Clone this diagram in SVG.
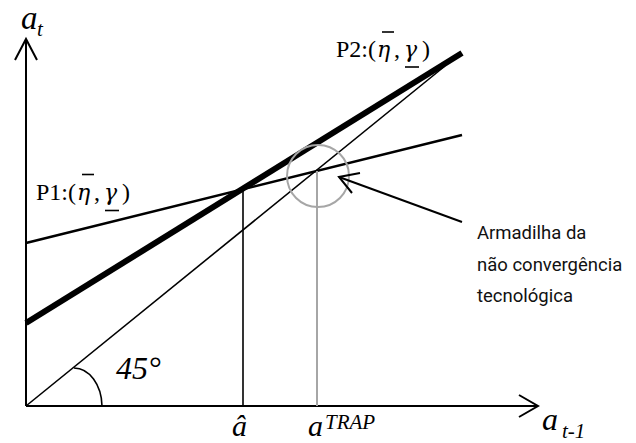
<svg xmlns="http://www.w3.org/2000/svg" width="636" height="443" viewBox="0 0 636 443">
<style>
.ax{stroke:#000;stroke-width:2;fill:none}
.ln{stroke:#000;fill:none}
.gr{stroke:#a6a6a6;fill:none;stroke-width:2}
.m{font-family:"Liberation Serif",serif;font-style:italic;fill:#000}
.p{font-family:"Liberation Serif",serif;font-size:24px;fill:#000}
.g{font-family:"DejaVu Serif","Liberation Serif",serif;font-style:italic;font-size:22px}
.ann{font-family:Roboto,"Liberation Sans",sans-serif;font-size:18.5px;fill:#111}
</style>
<rect width="636" height="443" fill="#fff"/>
<g id="axes">
<line class="ax" x1="26" y1="406" x2="26" y2="39"/>
<polyline class="ax" points="15,60 26,39 37,60"/>
<line class="ax" x1="26" y1="406" x2="537" y2="406"/>
<polyline class="ax" points="519,395 538,406 519,417"/>
</g>
<g id="connectors">
<line class="ln" x1="26" y1="406" x2="445" y2="66" stroke-width="1.6"/>
<line class="ln" x1="26" y1="243" x2="462" y2="135" stroke-width="2.6"/>
<line class="ln" x1="26" y1="323" x2="462" y2="53" stroke-width="6"/>
<line class="ln" x1="243" y1="189" x2="243" y2="406" stroke-width="1.6"/>
<line class="gr" x1="317" y1="171" x2="317" y2="406"/>
<circle class="gr" cx="318" cy="176" r="31"/>
<path class="ln" stroke-width="1.6" d="M74 368 A28 39 0 0 1 102 406"/>
<line class="ln" x1="339" y1="177" x2="462" y2="222" stroke-width="2"/>
<polyline class="ln" stroke-width="2" points="360,173 339,177 352,193"/>
</g>
<g id="label-at">
<text class="m" x="21" y="29" font-size="33">a</text>
<text class="m" x="37" y="36" font-size="21">t</text>
</g>
<g id="P2">
<text class="p" y="57"><tspan x="336">P2:(</tspan><tspan class="g" x="377">η</tspan><tspan x="394">,</tspan><tspan class="g" x="404">γ</tspan><tspan x="422">)</tspan></text>
<line class="ln" x1="382" y1="32" x2="394" y2="32" stroke-width="1.6"/>
<line class="ln" x1="405" y1="67" x2="419" y2="67" stroke-width="1.6"/>
</g>
<g id="P1" transform="translate(-300,142.5)">
<text class="p" y="57"><tspan x="336">P1:(</tspan><tspan class="g" x="377">η</tspan><tspan x="394">,</tspan><tspan class="g" x="404">γ</tspan><tspan x="422">)</tspan></text>
<line class="ln" x1="382" y1="32" x2="394" y2="32" stroke-width="1.6"/>
<line class="ln" x1="405" y1="68" x2="419" y2="68" stroke-width="1.6"/>
</g>
<g id="angle-label">
<text class="m" x="116" y="379" font-size="32">45°</text>
</g>
<g id="label-ahat">
<text class="m" x="232" y="436" font-size="30">â</text>
</g>
<g id="label-atrap">
<text class="m" x="308" y="436" font-size="30">a</text>
<text class="m" x="325" y="429" font-size="21">TRAP</text>
</g>
<g id="label-at1">
<text class="m" x="542" y="430" font-size="32">a</text>
<text class="m" x="562" y="438" font-size="21">t-1</text>
</g>
<g id="annotation">
<text class="ann" x="477" y="239">Armadilha da</text>
<text class="ann" x="477" y="271">não convergência</text>
<text class="ann" x="477" y="302">tecnológica</text>
</g>
</svg>
